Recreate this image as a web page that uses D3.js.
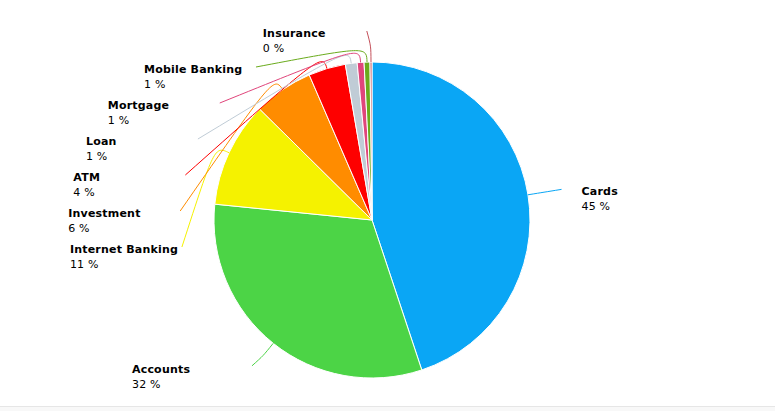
<!DOCTYPE html>
<html><head><meta charset="utf-8">
<script src="https://cdn.jsdelivr.net/npm/d3@7"></script>
<style>
html,body{margin:0;padding:0;background:#fff;}
svg{display:block;}
text{font-family:"DejaVu Sans",Verdana,sans-serif;font-size:11px;fill:#000;}
</style></head><body>
<svg id="chart" width="775" height="411"></svg>
<script>
const categories = ["Cards","Accounts","Internet Banking","Investment","ATM","Loan","Mortgage","Mobile Banking","Insurance"];
const values = [44.9, 31.7, 10.8, 6.1, 3.8, 1.2, 0.7, 0.6, 0.2];
const percentLabels = ["45 %","32 %","11 %","6 %","4 %","1 %","1 %","1 %","0 %"];
const colors = ["#0aa6f5","#4cd446","#f5f200","#ff8c00","#fe0000","#c0ccd6","#e0457b","#6aab1c","#c4505a"];

const W = 775, H = 411;
const cx = 372, cy = 220, r = 158, R = 192;
const svg = d3.select("#chart");

// footer strip
svg.append("rect").attr("x",0).attr("y",406.5).attr("width",W).attr("height",5).attr("fill","#f8f8f8");
svg.append("line").attr("x1",0).attr("x2",W).attr("y1",406.5).attr("y2",406.5).attr("stroke","#e6e6e6");

const data = categories.map((c,i)=>({name:c, value:values[i], pct:percentLabels[i], color:colors[i]}));
const pie = d3.pie().sort(null).value(d=>d.value);
const arcs = pie(data);
const arc = d3.arc().innerRadius(0).outerRadius(r);

const g = svg.append("g").attr("transform",`translate(${cx},${cy})`);
g.selectAll("path.slice").data(arcs).enter().append("path")
  .attr("class","slice").attr("d",arc)
  .attr("fill",d=>d.data.color).attr("stroke","#fff").attr("stroke-width",1);

// label layout
const pt = (a, rad) => [Math.sin(a)*rad, -Math.cos(a)*rad];
arcs.forEach(d=>{ d.mid = (d.startAngle+d.endAngle)/2; d.left = Math.sin(d.mid) < 0 && d.mid > Math.PI*1.3; });
// left-upper labels stacked from the top downward
const leftSet = arcs.filter(d=>d.left).sort((a,b)=>b.mid-a.mid);
let prevY = -Infinity;
leftSet.forEach(d=>{
  const nat = pt(d.mid, R - 3);
  let y = nat[1];
  if (y < prevY + 36) {
    y = prevY + 36;
    d.ex = -Math.sqrt(Math.max(0, R*R - y*y));
  } else {
    d.ex = nat[0] - 4;
  }
  d.ey = y;
  prevY = y;
});
arcs.filter(d=>!d.left).forEach(d=>{
  const p = pt(d.mid, R);
  d.ex = p[0]; d.ey = p[0] > 0 ? p[1] : p[1] - 4;
});

// leader lines
arcs.forEach(d=>{
  const p0 = pt(d.mid, r);
  const pc = pt(d.mid, r + 16);
  const path = d3.path();
  path.moveTo(p0[0], p0[1]);
  path.bezierCurveTo(pc[0], pc[1], pc[0], pc[1], d.ex, d.ey);
  g.append("path").attr("d", path.toString()).attr("fill","none")
    .attr("stroke", d.data.color).attr("stroke-width",1);
});

// labels
arcs.forEach(d=>{
  let lx, ly;
  if (d.ex > 0) { lx = d.ex + 20; ly = d.ey + 6; }
  else if (d.left) { lx = d.ex - 112; ly = d.ey + 6; }
  else { lx = d.ex - 120; ly = d.ey + 7; }
  if (d.left && d.ey < -180) { ly = d.ey + 6; lx = d.ex - 104; }
  const t = g.append("text").attr("x", lx).attr("y", ly);
  t.append("tspan").attr("font-weight","bold").attr("letter-spacing","0.2px").text(d.data.name);
  t.append("tspan").attr("x", lx).attr("dy", 15).attr("letter-spacing","0.2px").text(d.data.pct);
});
</script>
</body></html>
